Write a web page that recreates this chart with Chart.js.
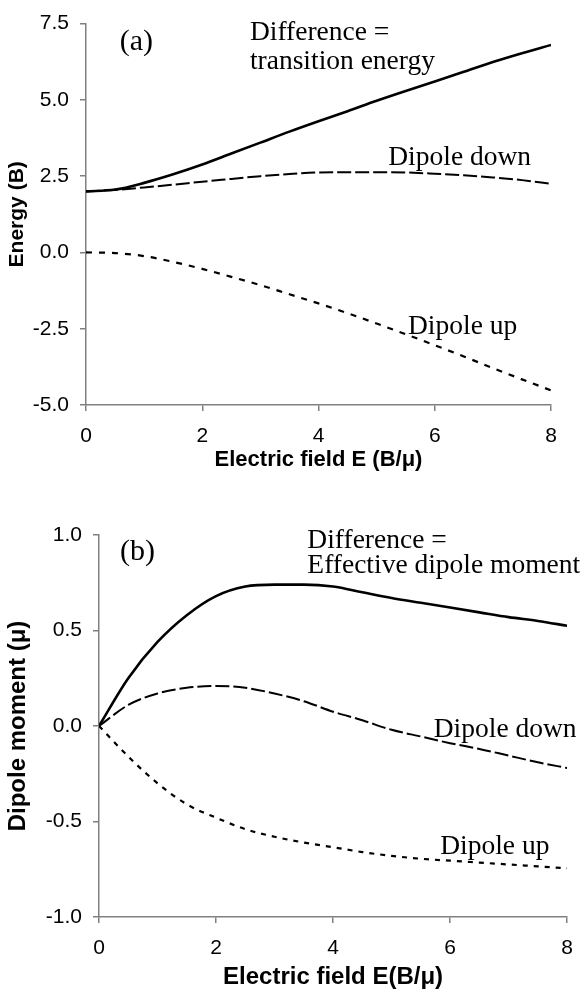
<!DOCTYPE html>
<html>
<head>
<meta charset="utf-8">
<script src="https://cdn.jsdelivr.net/npm/chart.js@4/dist/chart.umd.min.js"></script>
<style>
  html, body { margin: 0; padding: 0; background: #fff; }
  body { width: 586px; height: 992px; position: relative; overflow: hidden; }
  .box { position: absolute; left: 0; width: 586px; }
  #boxA { top: 0; height: 475px; }
  #boxB { top: 480px; height: 512px; }
</style>
</head>
<body>
<div class="box" id="boxA"><canvas id="chartA" width="586" height="475"></canvas></div>
<div class="box" id="boxB"><canvas id="chartB" width="586" height="512"></canvas></div>
<script>
// ---- Data ----
const fieldE = [0, 0.5, 1, 1.5, 2, 2.5, 3, 3.5, 4, 4.5, 5, 5.5, 6, 6.5, 7, 7.5, 8];

// (a) Energy (B)
const energyDifference = [2.0, 2.06, 2.28, 2.56, 2.88, 3.24, 3.6, 3.96, 4.3, 4.63, 4.97, 5.29, 5.6, 5.92, 6.24, 6.53, 6.8];
const energyDipoleDown = [2.0, 2.05, 2.13, 2.22, 2.32, 2.41, 2.5, 2.57, 2.62, 2.63, 2.63, 2.62, 2.58, 2.53, 2.46, 2.37, 2.25];
const energyDipoleUp   = [0.0, -0.02, -0.12, -0.31, -0.54, -0.8, -1.07, -1.37, -1.67, -1.99, -2.33, -2.68, -3.04, -3.41, -3.79, -4.16, -4.52];

// (b) Dipole moment (mu)
const momentDifference = [0.0, 0.25, 0.44, 0.58, 0.68, 0.73, 0.74, 0.74, 0.73, 0.7, 0.67, 0.645, 0.62, 0.595, 0.57, 0.55, 0.525];
const momentDipoleDown = [0.0, 0.11, 0.17, 0.2, 0.21, 0.2, 0.17, 0.13, 0.075, 0.03, -0.02, -0.055, -0.09, -0.12, -0.155, -0.19, -0.22];
const momentDipoleUp   = [0.0, -0.16, -0.3, -0.41, -0.48, -0.54, -0.58, -0.61, -0.635, -0.66, -0.68, -0.695, -0.705, -0.715, -0.725, -0.735, -0.745];

// Tick values
const xTicks = [0, 2, 4, 6, 8];
const energyTicks = [-5, -2.5, 0, 2.5, 5, 7.5];
const momentTicks = [-1, -0.5, 0, 0.5, 1];

// Annotations: [text, E, value, size]
const notesA = [
  ['(a)', 0.58, 6.62, 30],
  ['Difference =', 2.82, 6.95, 27.5],
  ['transition energy', 2.82, 6.02, 27.5],
  ['Dipole down', 5.2, 2.88, 27.5],
  ['Dipole up', 5.54, -2.67, 27.5]
];
const notesB = [
  ['(b)', 0.36, 0.87, 30],
  ['Difference =', 3.56, 0.932, 27.5],
  ['Effective dipole moment', 3.56, 0.8, 27.5],
  ['Dipole down', 5.72, -0.055, 27.5],
  ['Dipole up', 5.83, -0.672, 27.5]
];

const AXIS = '#808080';
const SANS = "'Liberation Sans', Arial, sans-serif";
const SERIF = "'Liberation Serif', 'Times New Roman', serif";

function pts(ys) { return fieldE.map((x, i) => ({ x: x, y: ys[i] })); }

const notesPlugin = {
  id: 'notes',
  afterDatasetsDraw(chart, args, opts) {
    const ctx = chart.ctx;
    const xs = chart.scales.x, ys = chart.scales.y;
    ctx.save();
    ctx.fillStyle = '#000';
    ctx.textAlign = 'left';
    ctx.textBaseline = 'alphabetic';
    opts.items.forEach(([t, ex, ey, size]) => {
      ctx.font = size + 'px ' + SERIF;
      ctx.fillText(t, xs.getPixelForValue(ex), ys.getPixelForValue(ey));
    });
    ctx.restore();
  }
};

function makeChart(id, cfg) {
  const datasets = [
    { label: 'Difference', data: pts(cfg.diff), borderColor: '#000', borderWidth: 2.6, borderDash: [] },
    { label: 'Dipole down', data: pts(cfg.down), borderColor: '#000', borderWidth: 2, borderDash: [14, 4] },
    { label: 'Dipole up', data: pts(cfg.up), borderColor: '#000', borderWidth: 2.2, borderDash: cfg.upDash }
  ];
  datasets.forEach(d => { d.pointRadius = 0; d.fill = false; d.cubicInterpolationMode = 'monotone'; });
  return new Chart(document.getElementById(id), {
    type: 'line',
    data: { datasets },
    plugins: [notesPlugin],
    options: {
      responsive: false,
      animation: false,
      events: [],
      layout: { padding: cfg.pad },
      plugins: {
        legend: { display: false },
        tooltip: { enabled: false },
        notes: { items: cfg.notes }
      },
      scales: {
        x: {
          type: 'linear', min: 0, max: 8,
          afterBuildTicks: s => { s.ticks = xTicks.map(v => ({ value: v })); },
          afterFit: s => { s.height = cfg.xH; },
          border: { color: AXIS, width: 1.5 },
          grid: { drawOnChartArea: false, drawTicks: true, tickLength: 6, color: AXIS, lineWidth: 1.5 },
          ticks: { color: '#000', font: { family: SANS, size: 21 }, padding: 13, maxRotation: 0, callback: v => String(v) },
          title: { display: true, text: cfg.xTitle, color: '#000', font: { family: SANS, size: cfg.xTitleSize, weight: 'bold' }, padding: { top: 0, bottom: cfg.xTitlePad } }
        },
        y: {
          type: 'linear', min: cfg.yMin, max: cfg.yMax,
          afterBuildTicks: s => { s.ticks = cfg.yTicks.map(v => ({ value: v })); },
          afterFit: s => { s.width = cfg.yW; },
          border: { color: AXIS, width: 1.5 },
          grid: { drawOnChartArea: false, drawTicks: true, tickLength: 6, color: AXIS, lineWidth: 1.5 },
          ticks: { color: '#000', font: { family: SANS, size: 21 }, padding: 11, callback: v => v.toFixed(1) },
          title: { display: true, text: cfg.yTitle, color: '#000', font: { family: SANS, size: cfg.yTitleSize, weight: 'bold' }, padding: { top: cfg.yTitlePad, bottom: 0 } }
        }
      }
    }
  });
}

makeChart('chartA', {
  diff: energyDifference, down: energyDipoleDown, up: energyDipoleUp, upDash: [6, 7],
  notes: notesA, pad: { left: 0, right: 35, top: 18, bottom: 0 },
  xH: 70, yW: 86, yMin: -5, yMax: 7.5, yTicks: energyTicks,
  xTitle: 'Electric field E (B/\u03bc)', yTitle: 'Energy (B)',
  xTitleSize: 22, xTitlePad: 2, yTitleSize: 21, yTitlePad: 5
});

makeChart('chartB', {
  diff: momentDifference, down: momentDipoleDown, up: momentDipoleUp, upDash: [5, 6],
  notes: notesB, pad: { left: 0, right: 17, top: 55, bottom: 0 },
  xH: 75, yW: 99, yMin: -1, yMax: 1, yTicks: momentTicks,
  xTitle: 'Electric field E(B/\u03bc)', yTitle: 'Dipole moment (\u03bc)',
  xTitleSize: 24, xTitlePad: 0, yTitleSize: 24, yTitlePad: 4
});
</script>
</body>
</html>
